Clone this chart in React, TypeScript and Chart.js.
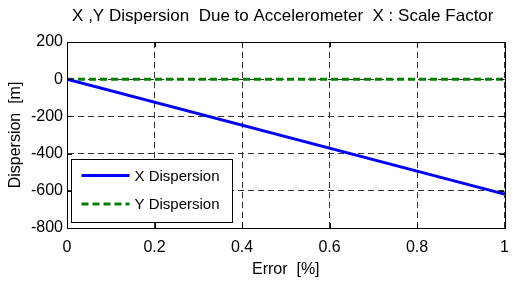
import React, { useEffect, useRef } from "react";
import { Chart, registerables } from "chart.js";

Chart.register(...registerables);

const titleText = "X ,Y Dispersion  Due to Accelerometer  X : Scale Factor";
const xAxisTitle = "Error  [%]";
const yAxisTitle = "Dispersion  [m]";

const errorPct = [0, 1];
const xDispersion = [0, -618];
const yDispersion = [0, 0];

const xTicks = [0, 0.2, 0.4, 0.6, 0.8, 1];
const yTicks = [200, 0, -200, -400, -600, -800];

const seriesNames = ["X Dispersion", "Y Dispersion"];

const FONT = "'Liberation Sans', Arial, sans-serif";

const framePlugin = {
  id: "matlabFrame",
  afterDatasetsDraw(chart: any) {
    const { ctx, chartArea: a, scales } = chart;
    ctx.save();
    ctx.strokeStyle = "#000";
    ctx.lineWidth = 1;
    ctx.setLineDash([]);
    ctx.strokeRect(Math.round(a.left) + 0.5, Math.round(a.top) + 0.5, Math.round(a.right - a.left), Math.round(a.bottom - a.top));
    const tl = 5;
    ctx.beginPath();
    for (const v of xTicks) {
      const x = Math.round(scales.x.getPixelForValue(v)) + 0.5;
      ctx.moveTo(x, a.bottom);
      ctx.lineTo(x, a.bottom - tl);
      ctx.moveTo(x, a.top);
      ctx.lineTo(x, a.top + tl);
    }
    for (const v of yTicks) {
      const y = Math.round(scales.y.getPixelForValue(v)) + 0.5;
      ctx.moveTo(a.left, y);
      ctx.lineTo(a.left + tl, y);
      ctx.moveTo(a.right, y);
      ctx.lineTo(a.right - tl, y);
    }
    ctx.stroke();
    ctx.restore();
  },
  afterDraw(chart: any) {
    const { ctx, chartArea: a } = chart;
    ctx.save();
    ctx.fillStyle = "#000";
    ctx.font = `17px ${FONT}`;
    ctx.textAlign = "center";
    ctx.textBaseline = "middle";
    ctx.fillText(titleText, (a.left + a.right) / 2 - 3, 16);

    const bx = Math.round(a.left) + 4.5;
    const by = 159.5;
    const bw = 161;
    const bh = 63;
    ctx.fillStyle = "#fff";
    ctx.fillRect(bx, by, bw, bh);
    ctx.strokeStyle = "#000";
    ctx.lineWidth = 1;
    ctx.strokeRect(bx, by, bw, bh);
    chart.data.datasets.forEach((ds: any, i: number) => {
      const y = by + 16 + i * 28.5;
      ctx.save();
      ctx.strokeStyle = ds.borderColor;
      ctx.lineWidth = ds.borderWidth;
      ctx.setLineDash(ds.borderDash || []);
      ctx.beginPath();
      ctx.moveTo(bx + 10, y);
      ctx.lineTo(bx + 58, y);
      ctx.stroke();
      ctx.restore();
      ctx.fillStyle = "#000";
      ctx.font = `15px ${FONT}`;
      ctx.textAlign = "left";
      ctx.textBaseline = "middle";
      ctx.fillText(ds.label, bx + 63, y + 1);
    });
    ctx.restore();
  },
};

export default function App() {
  const ref = useRef<HTMLCanvasElement | null>(null);
  useEffect(() => {
    document.body.style.margin = "0";
    const canvas = ref.current!;
    const chart = new Chart(canvas, {
      type: "line",
      data: {
        datasets: [
          {
            label: seriesNames[0],
            data: errorPct.map((x, i) => ({ x, y: xDispersion[i] })),
            borderColor: "#0000ff",
            backgroundColor: "#0000ff",
            borderWidth: 3,
            pointRadius: 0,
            tension: 0,
          },
          {
            label: seriesNames[1],
            data: errorPct.map((x, i) => ({ x, y: yDispersion[i] })),
            borderColor: "#008000",
            backgroundColor: "#008000",
            borderWidth: 3,
            borderDash: [7, 4],
            pointRadius: 0,
            tension: 0,
          },
        ],
      },
      options: {
        animation: false,
        responsive: false,
        maintainAspectRatio: false,
        layout: { padding: { top: 42, right: 4, left: 0, bottom: 0 } },
        plugins: {
          legend: { display: false },
          title: { display: false },
          tooltip: { enabled: false },
        },
        scales: {
          x: {
            type: "linear",
            min: 0,
            max: 1,
            afterBuildTicks: (s: any) => {
              s.ticks = xTicks.map((v) => ({ value: v }));
            },
            afterFit: (s: any) => {
              s.height = 55;
            },
            ticks: {
              color: "#000",
              font: { family: FONT, size: 16 },
              padding: 10,
              maxRotation: 0,
              callback: (v: any) => String(Number(Number(v).toFixed(1))),
            },
            grid: { color: "#333", lineWidth: 1, drawTicks: false },
            border: { display: true, color: "#000", width: 1, dash: [6, 4] },
            title: {
              display: true,
              text: xAxisTitle,
              color: "#000",
              font: { family: FONT, size: 16 },
              padding: { top: 0, bottom: 4 },
            },
          },
          y: {
            type: "linear",
            min: -800,
            max: 200,
            afterBuildTicks: (s: any) => {
              s.ticks = yTicks.slice().reverse().map((v) => ({ value: v }));
            },
            afterFit: (s: any) => {
              s.width = 67;
            },
            ticks: {
              color: "#000",
              font: { family: FONT, size: 16 },
              padding: 4,
            },
            grid: { color: "#333", lineWidth: 1, drawTicks: false },
            border: { display: true, color: "#000", width: 1, dash: [6, 4] },
            title: {
              display: true,
              text: yAxisTitle,
              color: "#000",
              font: { family: FONT, size: 16 },
              padding: { top: 6, bottom: 0 },
            },
          },
        },
      },
      plugins: [framePlugin],
    });
    return () => chart.destroy();
  }, []);
  return (
    <div style={{ position: "absolute", left: 0, top: 0, width: 519, height: 283, background: "#fff" }}>
      <canvas ref={ref} width={519} height={283} style={{ width: 519, height: 283 }} />
    </div>
  );
}
